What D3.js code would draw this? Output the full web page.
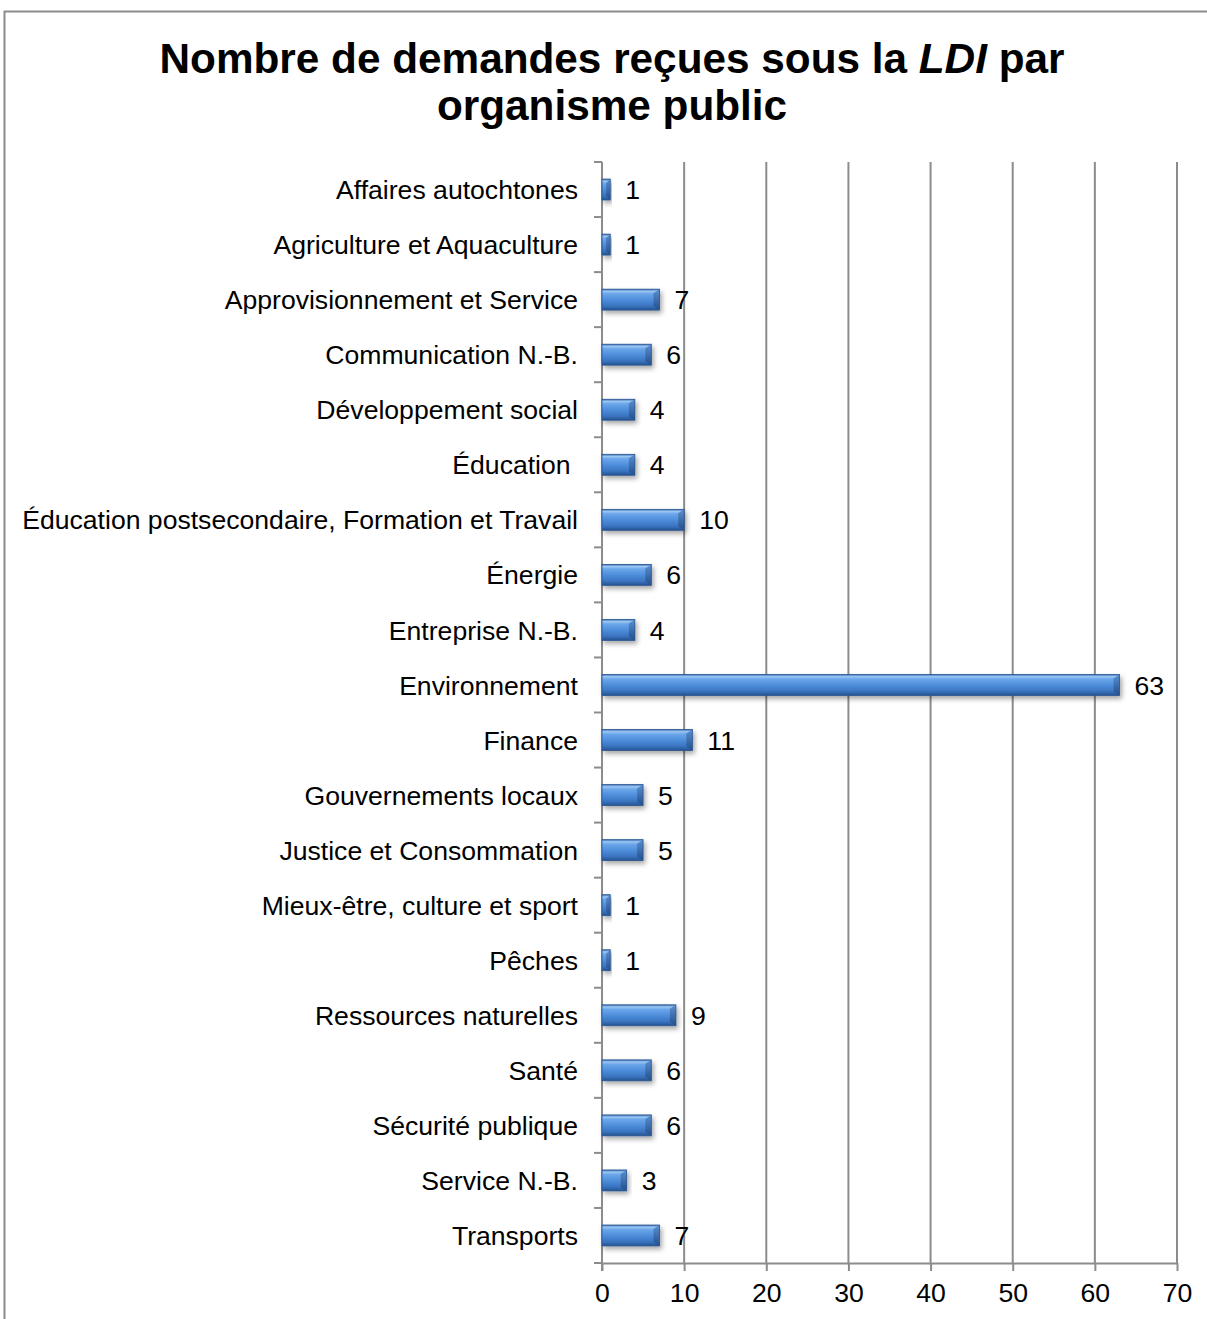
<!DOCTYPE html>
<html>
<head>
  <meta charset="UTF-8">
  <title>Nombre de demandes reçues sous la LDI</title>
  <script src="https://d3js.org/d3.v7.min.js"></script>
  <style>
    body { margin: 0; background: #fff; font-family: Arial, "Liberation Sans", sans-serif; }
    .cat { font-size: 26.6px; fill: #000; white-space: pre; }
    .val { font-size: 26.6px; fill: #000; }
    .tick text { font-size: 26.6px; fill: #000; font-family: Arial, "Liberation Sans", sans-serif; }
  </style>
</head>
<body>
  <div id="chart"></div>
  <script>
    const categories = [
      "Affaires autochtones", "Agriculture et Aquaculture", "Approvisionnement et Service",
      "Communication N.-B.", "Développement social", "Éducation ",
      "Éducation postsecondaire, Formation et Travail", "Énergie", "Entreprise N.-B.",
      "Environnement", "Finance", "Gouvernements locaux", "Justice et Consommation",
      "Mieux-être, culture et sport", "Pêches", "Ressources naturelles", "Santé",
      "Sécurité publique", "Service N.-B.", "Transports"
    ];
    const values = [1, 1, 7, 6, 4, 4, 10, 6, 4, 63, 11, 5, 5, 1, 1, 9, 6, 6, 3, 7];
    const xTicks = [0, 10, 20, 30, 40, 50, 60, 70];

    const W = 1207, H = 1319;
    const margin = { top: 162, left: 602 };
    const plotW = 1177 - margin.left;
    const plotH = 1263 - margin.top;

    const svg = d3.select("#chart").append("svg")
      .attr("width", W).attr("height", H);

    const defs = svg.append("defs");
    const grad = defs.append("linearGradient").attr("id", "barGrad")
      .attr("x1", 0).attr("y1", 0).attr("x2", 0).attr("y2", 1);
    [[0, "#3a6fb5"], [0.1, "#9cc6f3"], [0.22, "#6aa6ea"], [0.55, "#4a8ad8"],
     [0.8, "#3a74c0"], [1, "#24528f"]]
      .forEach(([o, c]) => grad.append("stop").attr("offset", o).attr("stop-color", c));
    const endGrad = defs.append("linearGradient").attr("id", "endGrad")
      .attr("x1", 0).attr("y1", 0).attr("x2", 0).attr("y2", 1);
    [[0, "#5b8fd0"], [1, "#234f8a"]]
      .forEach(([o, c]) => endGrad.append("stop").attr("offset", o).attr("stop-color", c));
    const shadow = defs.append("filter").attr("id", "shadow")
      .attr("x", "-10%").attr("y", "-30%").attr("width", "130%").attr("height", "180%");
    shadow.append("feDropShadow").attr("dx", 2).attr("dy", 3)
      .attr("stdDeviation", 2.5).attr("flood-color", "#000").attr("flood-opacity", 0.35);

    // outer frame
    svg.append("rect").attr("x", 4.5).attr("y", 11.5)
      .attr("width", W + 10).attr("height", H + 10)
      .attr("fill", "none").attr("stroke", "#8c8c8c").attr("stroke-width", 2);

    // title
    const title = svg.append("text").attr("x", 612).attr("y", 73)
      .attr("text-anchor", "middle").attr("font-size", 42.3).attr("font-weight", "bold");
    title.append("tspan").text("Nombre de demandes reçues sous la ");
    title.append("tspan").attr("font-style", "italic").text("LDI");
    title.append("tspan").text(" par");
    svg.append("text").attr("x", 612).attr("y", 120)
      .attr("text-anchor", "middle").attr("font-size", 42.3).attr("font-weight", "bold")
      .text("organisme public");

    const g = svg.append("g").attr("transform", `translate(${margin.left},${margin.top})`);

    const x = d3.scaleLinear().domain([0, 70]).range([0, plotW]);
    const y = d3.scaleBand().domain(categories).range([0, plotH]).paddingInner(0.62).paddingOuter(0.31);
    const yOuter = d3.scaleBand().domain(categories).range([0, plotH]);

    // vertical gridlines
    g.selectAll(".grid").data(xTicks.slice(1)).enter().append("line")
      .attr("x1", d => x(d)).attr("x2", d => x(d))
      .attr("y1", 0).attr("y2", plotH)
      .attr("stroke", "#8c8c8c").attr("stroke-width", 2);

    // x axis
    const xAxis = g.append("g").attr("transform", `translate(0,${plotH})`)
      .call(d3.axisBottom(x).tickValues(xTicks).tickSize(8).tickPadding(12).tickSizeOuter(0));
    xAxis.select(".domain").attr("stroke", "#8c8c8c").attr("stroke-width", 2);
    xAxis.selectAll(".tick line").attr("stroke", "#8c8c8c").attr("stroke-width", 2);

    // y axis line and ticks
    g.append("line").attr("x1", 0).attr("x2", 0).attr("y1", 0).attr("y2", plotH + 8)
      .attr("stroke", "#8c8c8c").attr("stroke-width", 2);
    const tickYs = categories.map(c => yOuter(c)).concat([plotH]);
    g.selectAll(".ytick").data(tickYs).enter().append("line")
      .attr("x1", -8).attr("x2", 0).attr("y1", d => d).attr("y2", d => d)
      .attr("stroke", "#8c8c8c").attr("stroke-width", 2);

    // category labels
    g.selectAll(".cat").data(categories).enter().append("text")
      .attr("class", "cat")
      .attr("x", -24).attr("y", d => yOuter(d) + yOuter.bandwidth() / 2)
      .attr("dy", "0.36em").attr("text-anchor", "end")
      .text(d => d);

    // bars
    const bh = y.bandwidth();
    const bars = g.selectAll(".bar").data(values).enter().append("g")
      .attr("class", "bar").attr("filter", "url(#shadow)");
    bars.append("rect")
      .attr("x", 0).attr("y", (d, i) => y(categories[i]))
      .attr("width", d => x(d)).attr("height", bh)
      .attr("fill", "url(#barGrad)");
    bars.append("path")
      .attr("d", (d, i) => {
        const x1 = x(d), y0 = y(categories[i]), b = Math.min(6, x1 / 2);
        return `M${x1},${y0} L${x1 - b},${y0 + 4} L${x1 - b},${y0 + bh - 4} L${x1},${y0 + bh} Z`;
      })
      .attr("fill", "url(#endGrad)");
    bars.append("rect")
      .attr("x", 0).attr("y", (d, i) => y(categories[i]))
      .attr("width", d => x(d)).attr("height", bh)
      .attr("fill", "none").attr("stroke", "#2a5590").attr("stroke-width", 0.8);

    // value labels
    g.selectAll(".val").data(values).enter().append("text")
      .attr("class", "val")
      .attr("x", d => x(d) + 15)
      .attr("y", (d, i) => yOuter(categories[i]) + yOuter.bandwidth() / 2)
      .attr("dy", "0.36em")
      .text(d => d);
  </script>
</body>
</html>
